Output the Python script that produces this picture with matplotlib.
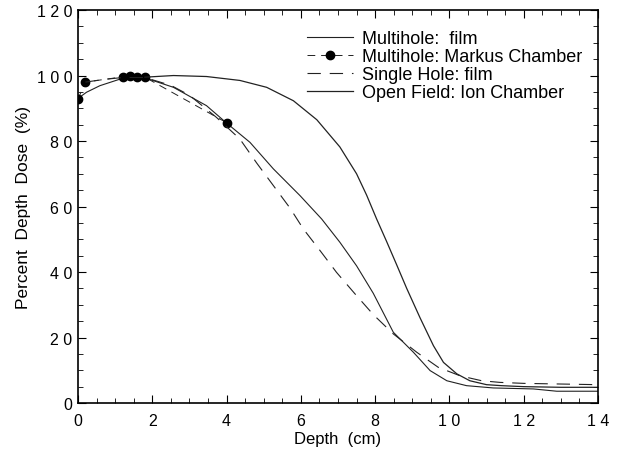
import matplotlib
matplotlib.use("Agg")
import matplotlib.pyplot as plt
from matplotlib.ticker import MultipleLocator

plt.rcParams['font.family'] = ['Liberation Sans', 'DejaVu Sans']

# Multihole: film (solid)
mh_x = [0, 0.23, 0.59, 1.13, 1.5, 1.8, 2.57, 3.46, 4.0, 4.63, 5.26, 5.98, 6.56, 7.05,
        7.5, 7.95, 8.49, 9.03, 9.48, 9.93, 10.46, 11.18, 12.26, 12.89, 14]
mh_y = [93, 94.9, 96.9, 98.9, 99.4, 99.3, 96.4, 90.8, 85.5, 79.6, 71.5, 63.3, 56.2, 49.1,
        41.9, 33.5, 21.6, 15.5, 9.9, 6.8, 5.3, 4.6, 4.3, 3.6, 3.6]

# Multihole: Markus Chamber (points)
mk_x = [0, 0.2, 1.2, 1.4, 1.6, 1.8, 4.0]
mk_y = [92.8, 98.0, 99.6, 99.9, 99.6, 99.5, 85.6]

# Single Hole: film (dashed)
sh_x = [0.2, 0.7, 1.2, 1.8, 2.5, 3.0, 3.73, 4.36, 4.81, 5.26, 5.71, 6.07, 6.52, 6.96,
        7.46, 7.95, 8.49, 9.12, 9.7, 10.29, 10.87, 11.36, 12, 13, 14]
sh_y = [98, 98.8, 99.4, 99.4, 97, 94, 87.2, 80.6, 73.3, 66.4, 59.5, 53.1, 46.5, 39.9,
        33.3, 27.0, 21.1, 15.5, 10.9, 8.3, 6.8, 6.3, 6.0, 5.8, 5.6]

# Open Field: Ion Chamber (solid)
of_x = [1.8, 2.57, 3.46, 4.36, 5.08, 5.8, 6.43, 7.05, 7.5, 7.77, 8.04, 8.31, 8.58, 8.85,
        9.21, 9.57, 9.84, 10.2, 10.55, 11.0, 11.4, 12, 13, 14]
of_y = [99.5, 100, 99.7, 98.5, 96.4, 92.3, 86.5, 78.2, 70, 63.5, 56.2, 49.3, 42.2, 35,
        26, 17.5, 12.4, 8.9, 6.8, 5.6, 5.3, 5.0, 4.8, 4.8]

xticks = [0, 2, 4, 6, 8, 10, 12, 14]
xtick_labels = ["0", "2", "4", "6", "8", "1 0", "1 2", "1 4"]
yticks = [0, 20, 40, 60, 80, 100, 120]
ytick_labels = ["0", "2 0", "4 0", "6 0", "8 0", "1 0 0", "1 2 0"]

fig = plt.figure(figsize=(6.17, 4.60), dpi=100)
ax = fig.add_axes([0.1264, 0.1217, 0.8428, 0.8543])

lc = '#222222'
ax.plot(mh_x, mh_y, color=lc, lw=0.8, label='Multihole:  film')
ax.plot(mk_x, mk_y, color=lc, lw=0.7, dashes=(8, 6), marker='o', ms=6,
        mfc='black', mec='black', label='Multihole: Markus Chamber')
ax.plot(sh_x, sh_y, color=lc, lw=0.8, dashes=(12, 8), label='Single Hole: film')
ax.plot(of_x, of_y, color=lc, lw=0.9, label='Open Field: Ion Chamber')

ax.set_xlim(0, 14)
ax.set_ylim(0, 120)
ax.set_xticks(xticks)
ax.set_xticklabels(xtick_labels)
ax.set_yticks(yticks)
ax.set_yticklabels(ytick_labels)
ax.xaxis.set_minor_locator(MultipleLocator(0.5))
ax.yaxis.set_minor_locator(MultipleLocator(5))
ax.tick_params(which='both', direction='in', top=True, right=True, labelsize=11.5)
ax.tick_params(which='major', length=6, width=0.8)
ax.tick_params(which='minor', length=3.5, width=0.6)
ax.tick_params(axis='x', pad=7)
ax.tick_params(axis='y', pad=4)
for s in ax.spines.values():
    s.set_linewidth(1.2)

ax.set_xlabel("Depth  (cm)", fontsize=12, labelpad=2)
ax.set_ylabel("Percent  Depth  Dose  (%)", fontsize=12.5, labelpad=4)

ax.legend(loc='upper left', bbox_to_anchor=(0.41, 0.99), frameon=False,
          fontsize=13, handlelength=2.55, handletextpad=0.45, labelspacing=0.05)

fig.savefig("out.png", dpi=100)
